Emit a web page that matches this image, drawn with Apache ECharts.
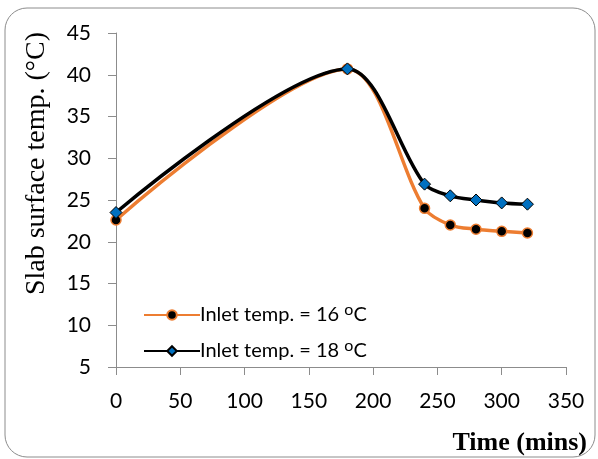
<!DOCTYPE html>
<html><head><meta charset="utf-8">
<script src="https://cdn.jsdelivr.net/npm/echarts@6/dist/echarts.min.js"></script>
<style>html,body{margin:0;padding:0;background:#fff}#c{width:598px;height:459px}</style>
</head><body><div id="c"></div>
<script>
const timeMins = [0, 180, 240, 260, 280, 300, 320];
const inlet16 = [22.6, 40.7, 24.0, 22.0, 21.5, 21.25, 21.05];
const inlet18 = [23.5, 40.7, 26.9, 25.5, 25.0, 24.65, 24.5];
const seriesNames = ['Inlet temp. = 16 {s|o}C', 'Inlet temp. = 18 {s|o}C'];
const yTitle = 'Slab surface temp. (°C)';
const xTitle = 'Time (mins)';

const chart = echarts.init(document.getElementById('c'));
const pair = (xs, ys) => xs.map((x, i) => [x, ys[i]]);
const labelFont = 'Lato, "Open Sans", sans-serif';
chart.setOption({
  animation: false,
  backgroundColor: '#fff',
  grid: {left: 116, right: 32, top: 33, bottom: 92},
  graphic: [
    {type: 'rect', shape: {x: 5, y: 8, width: 590, height: 449, r: 22}, style: {fill: 'none', stroke: '#8c8c8c', lineWidth: 1}, z: -1},
    {type: 'text', left: 23, top: 32, rotation: Math.PI/2, style: {text: yTitle, font: '28px "Liberation Serif", serif', fill: '#000'}},
    {type: 'text', right: 11, bottom: 3, style: {text: xTitle, font: 'bold 26px "Liberation Serif", serif', fill: '#000'}}
  ],
  xAxis: {
    type: 'value', min: 0, max: 350, interval: 50,
    axisLine: {lineStyle: {color: '#8c8c8c', width: 1}},
    axisTick: {show: true, length: 8, lineStyle: {color: '#8c8c8c'}},
    splitLine: {show: false},
    axisLabel: {color: '#000', fontSize: 21, fontFamily: labelFont, margin: 24}
  },
  yAxis: {
    type: 'value', min: 5, max: 45, interval: 5,
    axisLine: {show: true, lineStyle: {color: '#8c8c8c', width: 1}},
    axisTick: {show: true, length: 8, lineStyle: {color: '#8c8c8c'}},
    splitLine: {show: false},
    axisLabel: {color: '#000', fontSize: 21, fontFamily: labelFont, margin: 25}
  },
  legend: {
    left: 138, top: 297, orient: 'vertical', itemGap: 13, itemWidth: 56, itemHeight: 12,
    textStyle: {fontSize: 20, fontFamily: labelFont, color: '#000', padding: [0,0,0,-5],
      rich: {s: {fontSize: 16, verticalAlign: 'top', padding: [0,0,10,0], fontFamily: labelFont}}},
    data: seriesNames
  },
  series: [
    {name: seriesNames[0], type: 'line', smooth: 0.3, data: pair(timeMins, inlet16),
     lineStyle: {color: '#ED7D31', width: 3.5}, symbol: 'circle', symbolSize: 10,
     itemStyle: {color: '#000', borderColor: '#ED7D31', borderWidth: 1.5}, z: 2},
    {name: seriesNames[1], type: 'line', smooth: 0.3, data: pair(timeMins, inlet18),
     lineStyle: {color: '#000', width: 3.5}, symbol: 'diamond', symbolSize: 12,
     itemStyle: {color: '#0070C0', borderColor: '#000', borderWidth: 1}, z: 3}
  ]
});
</script></body></html>
